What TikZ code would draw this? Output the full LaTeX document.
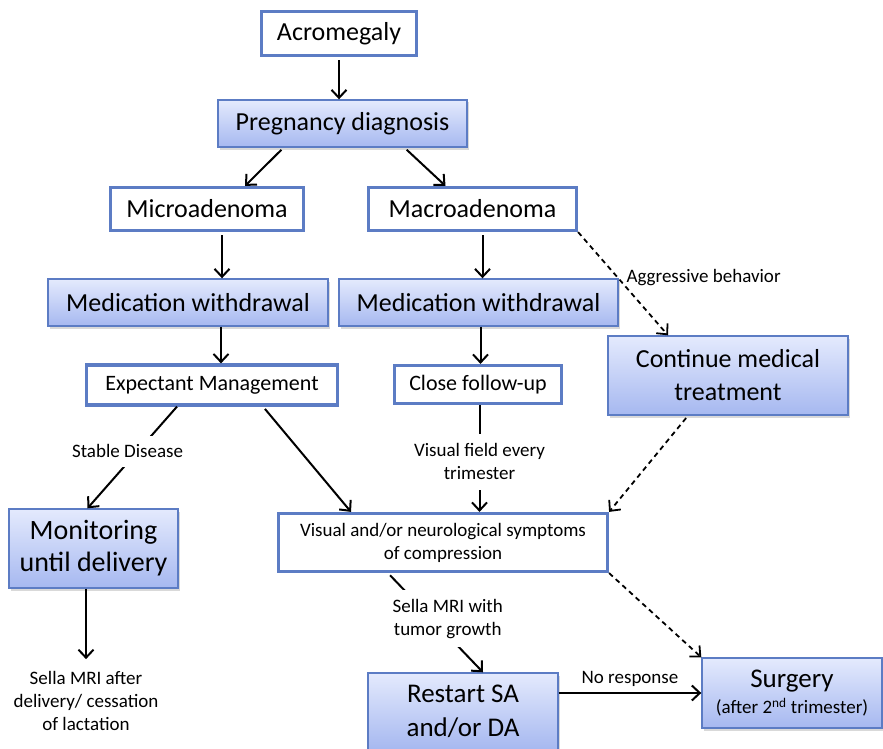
\documentclass[tikz,border=0pt]{standalone}
\usepackage{fontspec}
\setmainfont{Carlito}
\usetikzlibrary{arrows.meta,shadows}
\definecolor{boxblue}{RGB}{92,124,196}
\definecolor{shadetop}{RGB}{228,234,253}
\definecolor{shadebot}{RGB}{166,184,240}
\begin{document}
\begin{tikzpicture}[x=1pt,y=-1pt,
  plainbox/.style={draw=boxblue,line width=3.2pt,fill=white,inner sep=0pt,align=center},
  shadebox/.style={draw=boxblue,line width=1.4pt,top color=shadetop,bottom color=shadebot,inner sep=0pt,align=center,
    drop shadow={shadow xshift=1.5pt,shadow yshift=-2.5pt,opacity=.3}},
  bigtext/.style={font=\fontsize{26}{33}\selectfont},
  midtext/.style={font=\fontsize{22}{26}\selectfont},
  smalltext/.style={font=\fontsize{19}{23}\selectfont,align=center},
  arr/.style={line width=2pt,-{Straight Barb[length=8pt,width=15pt]}},
  dasharr/.style={arr,line width=1.8pt,dash pattern=on 5pt off 4pt},
  gaplabel/.style={smalltext,fill=white,inner xsep=3pt}]
  \useasboundingbox (0,0) rectangle (883,749);
  \node[plainbox,bigtext,minimum width=155pt,minimum height=44pt] (acro) at (339,33.5) {Acromegaly};
  \node[shadebox,bigtext,minimum width=249pt,minimum height=47pt] (preg) at (342.5,123.5) {Pregnancy diagnosis};
  \node[plainbox,bigtext,minimum width=193pt,minimum height=43pt] (micro) at (207,209) {Microadenoma};
  \node[plainbox,bigtext,minimum width=208pt,minimum height=43pt] (macro) at (472.5,209) {Macroadenoma};
  \node[shadebox,bigtext,minimum width=280pt,minimum height=47pt] (medL) at (188,302.5) {Medication withdrawal};
  \node[shadebox,bigtext,minimum width=279pt,minimum height=47pt] (medR) at (478.5,302.5) {Medication withdrawal};
  \node[plainbox,midtext,minimum width=251pt,minimum height=40pt] (expect) at (212,385) {Expectant Management};
  \node[plainbox,midtext,minimum width=167pt,minimum height=38pt] (close) at (478,384.5) {Close follow-up};
  \node[shadebox,bigtext,minimum width=240pt,minimum height=79pt] (cont) at (728,375.5) {Continue medical\\treatment};
  \node[shadebox,font=\fontsize{28}{32}\selectfont,minimum width=169pt,minimum height=79pt] (monit) at (93.5,548.5) {Monitoring\\until delivery};
  \node[plainbox,smalltext,minimum width=329pt,minimum height=58pt] (visual) at (443,542.5) {Visual and/or neurological symptoms\\of compression};
  \node[shadebox,font=\fontsize{27}{34}\selectfont,minimum width=190pt,minimum height=77pt] (restart) at (463,711.5) {Restart SA\\and/or DA};
  \node[shadebox,font=\fontsize{27}{30}\selectfont,minimum width=180pt,minimum height=70pt] (surgery) at (792,693) {Surgery\\[-4pt]{\fontsize{19}{22}\selectfont(after 2\textsuperscript{nd} trimester)}};
  \node[smalltext,inner xsep=0pt,inner ysep=12pt] (sella) at (86,701) {Sella MRI after\\delivery/ cessation\\of lactation};
  \draw[arr,shorten <=3pt] (acro.south) -- (acro.south |- preg.north);
  \draw[arr,shorten <=3pt] ([xshift=-59pt]preg.south) -- ([xshift=38pt]micro.north);
  \draw[arr,shorten <=3pt] ([xshift=62pt]preg.south) -- ([xshift=-27pt]macro.north);
  \draw[arr,shorten <=3pt] ([xshift=15pt]micro.south) -- ([xshift=15pt]micro.south |- medL.north);
  \draw[arr,shorten <=3pt] ([xshift=10pt]macro.south) -- ([xshift=10pt]macro.south |- medR.north);
  \draw[arr] ([xshift=33pt]medL.south) -- ([xshift=33pt]medL.south |- expect.north);
  \draw[arr] ([xshift=2pt]medR.south) -- ([xshift=2pt]medR.south |- close.north);
  \draw[arr] ([xshift=-35pt]expect.south) -- node[gaplabel,pos=.44,xshift=-10pt,inner ysep=9pt] {Stable Disease} ([xshift=-6pt]monit.north);
  \draw[arr,shorten <=3pt] ([xshift=51pt]expect.south) -- ([xshift=-92pt]visual.north);
  \draw[arr] ([xshift=1.5pt]close.south) -- node[gaplabel,pos=.53,inner ysep=10pt] {Visual field every\\trimester} ([xshift=1.5pt]close.south |- visual.north);
  \draw[dasharr] (macro.south east) -- node[smalltext,pos=.44,anchor=west,inner sep=0pt,xshift=8pt] {Aggressive behavior} ([xshift=-60pt]cont.north);
  \draw[dasharr,shorten <=3pt] ([xshift=-40pt]cont.south) -- (visual.north east);
  \draw[arr,shorten <=3pt] ([xshift=-55pt]visual.south) -- node[gaplabel,pos=.46,xshift=16pt,inner ysep=9pt] {Sella MRI with\\tumor growth} ([xshift=20pt]restart.north);
  \draw[dasharr] (visual.south east) -- (surgery.north west);
  \draw[arr] ([xshift=-7.5pt]monit.south) -- (sella.north);
  \draw[arr] (restart.east |- surgery.west) -- node[smalltext,above=5pt,inner sep=0pt] {No response} (surgery.west);
\end{tikzpicture}
\end{document}
